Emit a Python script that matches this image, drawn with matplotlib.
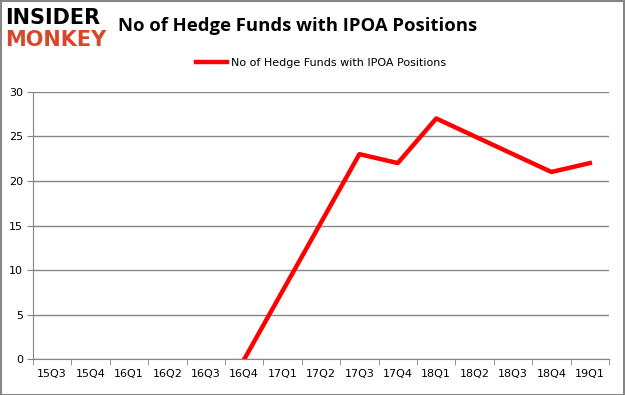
import matplotlib
matplotlib.use('Agg')
import matplotlib.pyplot as plt
import numpy as np

quarters = ['15Q3', '15Q4', '16Q1', '16Q2', '16Q3', '16Q4', '17Q1', '17Q2',
            '17Q3', '17Q4', '18Q1', '18Q2', '18Q3', '18Q4', '19Q1']
# blanks where there is no value; the line is drawn across the gaps
funds = [np.nan, np.nan, np.nan, np.nan, np.nan, 0, np.nan, np.nan,
         23, 22, 27, 25, 23, 21, 22]

fig = plt.figure(figsize=(6.25, 3.95), dpi=100)
ax = fig.add_axes([0.0528, 0.0904, 0.9216, 0.6774])

x = np.arange(len(quarters))
y = np.array(funds, dtype=float)
ok = ~np.isnan(y)
ax.plot(x[ok], y[ok], color='#ff0000', linewidth=3.2,
        label='No of Hedge Funds with IPOA Positions')

ax.set_xlim(-0.5, len(quarters) - 0.5)
ax.set_ylim(0, 30)
ax.set_yticks(np.arange(0, 31, 5))
ax.set_xticks(x)
ax.set_xticklabels(quarters)
ax.set_xticks(np.arange(-0.5, len(quarters), 1), minor=True)
ax.tick_params(axis='x', which='major', length=0, pad=7, labelsize=8)
ax.tick_params(axis='x', which='minor', length=4, color='#868686')
ax.tick_params(axis='y', length=4, color='#868686', labelsize=8, pad=3)
ax.grid(axis='y', color='#868686', linewidth=1)
ax.set_axisbelow(True)
for s in ['top', 'right']:
    ax.spines[s].set_visible(False)
for s in ['left', 'bottom']:
    ax.spines[s].set_color('#868686')

ax.legend(loc='lower center', bbox_to_anchor=(0.5, 1.05), frameon=False,
          fontsize=8, handlelength=2.8, handletextpad=0.3)

fig.text(0.189, 0.935, 'No of Hedge Funds with IPOA Positions', fontsize=13.3,
         fontweight='bold', family='Open Sans', va='center', ha='left')

# logo
fig.text(0.008, 0.955, 'INSIDER', fontsize=15, fontweight='heavy',
         family='DejaVu Sans', color='black', va='center', ha='left')
fig.text(0.008, 0.9, 'MONKEY', fontsize=15, fontweight='heavy',
         family='DejaVu Sans', color='#d9472b', va='center', ha='left')

# outer frame
fig.add_artist(plt.Rectangle((0.001, 0.001), 0.997, 0.997, transform=fig.transFigure,
                             fill=False, edgecolor='#868686', linewidth=1.5))

fig.savefig('out.png', dpi=100)
